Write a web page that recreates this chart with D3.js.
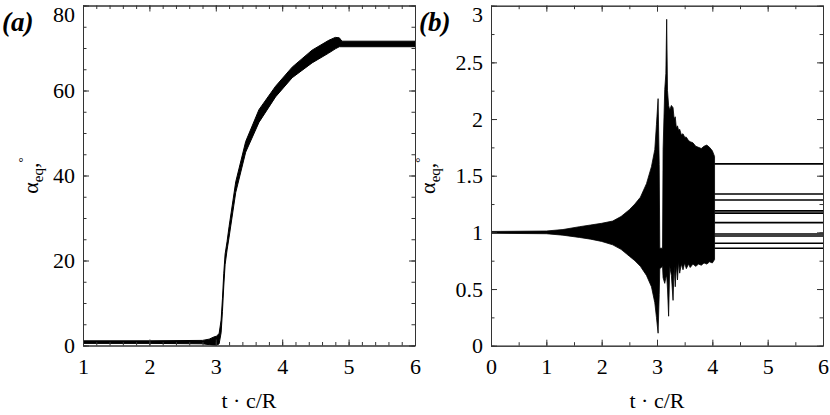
<!DOCTYPE html>
<html>
<head>
<meta charset="utf-8">
<script src="https://cdn.jsdelivr.net/npm/d3@7"></script>
<style>
  body { margin: 0; background: #fff; }
  svg { display: block; font-family: "Liberation Serif", "Times New Roman", serif; }
  .axis path, .axis line { stroke: #333; }
</style>
</head>
<body>
<div id="chart"></div>
<script>
// panel (a): envelope of the oscillating alpha_eq, degrees
var tA  = [1, 2, 2.8, 2.9, 2.97, 3.01, 3.05, 3.08, 3.1, 3.12, 3.14, 3.17, 3.2, 3.3, 3.45, 3.65, 3.9, 4.15, 4.45, 4.7, 4.8, 4.86, 4.9, 6];
var hiA = [1.1, 1.1, 1.2, 1.5, 2.0, 2.2, 2.8, 6, 11, 17, 21.5, 24.5, 28, 38.5, 48, 55.5, 61, 65.5, 69.5, 71.8, 72.5, 72.4, 71.6, 71.6];
var loA = [0.5, 0.5, 0.4, 0.2, 0, 0, 0.4, 3, 8, 14, 19, 22.5, 25.5, 36, 45.5, 52.5, 58.5, 63, 66.5, 68.8, 69.8, 70.3, 70.3, 70.3];

// panel (b): envelope up to t=4, then fixed levels
var tB  = [0, 1, 1.3, 1.6, 1.8, 2.0, 2.2, 2.35, 2.5, 2.6, 2.7, 2.81, 2.9, 2.96, 2.99, 3.02, 3.04, 3.05, 3.1, 3.11,
           3.14, 3.16, 3.175, 3.19, 3.21, 3.23, 3.26, 3.29, 3.31, 3.33, 3.35, 3.37, 3.39, 3.41, 3.44, 3.47, 3.5, 3.53, 3.57, 3.6,
           3.65, 3.7, 3.75, 3.8, 3.85, 3.9, 3.95, 4.0, 4.04];
var hiB = [1.008, 1.012, 1.025, 1.05, 1.065, 1.08, 1.1, 1.14, 1.2, 1.25, 1.31, 1.43, 1.58, 1.73, 1.95, 2.18, 1.6, 0.86, 0.86, 1.73,
           2.26, 2.4, 2.88, 2.25, 2.12, 2.08, 2.12, 2.1, 2.0, 2.02, 1.92, 1.94, 1.9, 1.91, 1.86, 1.87, 1.84, 1.84, 1.81, 1.8,
           1.79, 1.76, 1.75, 1.74, 1.76, 1.77, 1.75, 1.72, 1.67];
var loB = [0.992, 0.988, 0.975, 0.955, 0.94, 0.92, 0.89, 0.85, 0.79, 0.75, 0.7, 0.62, 0.52, 0.38, 0.25, 0.11, 0.45, 0.68, 0.7, 0.6,
           0.55, 0.6, 0.62, 0.5, 0.26, 0.7, 0.62, 0.40, 0.7, 0.52, 0.72, 0.58, 0.74, 0.64, 0.72, 0.67, 0.73, 0.68, 0.72, 0.69,
           0.72, 0.7, 0.72, 0.71, 0.73, 0.72, 0.74, 0.73, 0.76];
var levelsB = [1.604, 1.339, 1.286, 1.19, 1.17, 1.086, 0.986, 0.968, 0.904, 0.86];
var levelStartB = 4.04;

var xTicksA = [1, 2, 3, 4, 5, 6];
var yTicksA = [0, 20, 40, 60, 80];
var xTicksB = [0, 1, 2, 3, 4, 5, 6];
var yTicksB = [0, 0.5, 1, 1.5, 2, 2.5, 3];

var width = 830, height = 415;

var svg = d3.select("#chart").append("svg")
            .attr("width", width)
            .attr("height", height);

function panel(opt) {
  var x = d3.scaleLinear().domain(opt.xDomain).range([opt.left, opt.right]);
  var y = d3.scaleLinear().domain(opt.yDomain).range([opt.bottom, opt.top]);
  var g = svg.append("g");

  g.append("clipPath").attr("id", opt.id + "clip")
    .append("rect")
    .attr("x", opt.left).attr("y", opt.top)
    .attr("width", opt.right - opt.left).attr("height", opt.bottom - opt.top);

  var data = g.append("g").attr("clip-path", "url(#" + opt.id + "clip)");
  var pts = opt.t.map(function(d, i) { return { t: d, hi: opt.hi[i], lo: opt.lo[i] }; });
  var area = d3.area()
      .x(function(d) { return x(d.t); })
      .y0(function(d) { return y(d.lo); })
      .y1(function(d) { return y(d.hi); });
  data.append("path")
    .datum(pts)
    .attr("d", area)
    .attr("fill", "#000")
    .attr("stroke", "#000")
    .attr("stroke-width", opt.sw)
    .attr("stroke-linejoin", "round");

  if (opt.levels) {
    data.selectAll(".level").data(opt.levels).enter().append("line")
      .attr("class", "level")
      .attr("x1", x(opt.levelStart)).attr("x2", x(opt.xDomain[1]))
      .attr("y1", function(d) { return y(d); }).attr("y2", function(d) { return y(d); })
      .attr("stroke", "#000").attr("stroke-width", 1.6);
  }

  // minor ticks, all four sides
  var minor = [
    [d3.axisBottom(x).tickValues(opt.xMinor), "translate(0," + opt.bottom + ")"],
    [d3.axisTop(x).tickValues(opt.xMinor), "translate(0," + opt.top + ")"],
    [d3.axisLeft(y).tickValues(opt.yMinor), "translate(" + opt.left + ",0)"],
    [d3.axisRight(y).tickValues(opt.yMinor), "translate(" + opt.right + ",0)"]
  ];
  minor.forEach(function(m) {
    g.append("g").attr("class", "axis").attr("transform", m[1])
      .call(m[0].tickSize(-3.5).tickFormat("").tickSizeOuter(0));
  });

  // major ticks with labels on bottom/left
  var major = [
    [d3.axisBottom(x).tickValues(opt.xTicks).tickFormat(d3.format("")), "translate(0," + opt.bottom + ")", true],
    [d3.axisTop(x).tickValues(opt.xTicks).tickFormat(""), "translate(0," + opt.top + ")", false],
    [d3.axisLeft(y).tickValues(opt.yTicks).tickFormat(d3.format("")), "translate(" + opt.left + ",0)", true],
    [d3.axisRight(y).tickValues(opt.yTicks).tickFormat(""), "translate(" + opt.right + ",0)", false]
  ];
  major.forEach(function(m, i) {
    var ax = g.append("g").attr("class", "axis").attr("transform", m[1])
      .attr("font-family", null)
      .call(m[0].tickSize(-6).tickSizeOuter(0).tickPadding(i == 0 ? 13 : 8));
    ax.attr("font-family", null).attr("font-size", null);
    ax.selectAll("text")
      .attr("fill", "#000")
      .style("font-size", "22px")
      .style("font-family", "'Liberation Serif', 'Times New Roman', serif");
    if (i == 2) {
      // top label pushed down to stay inside the picture
      ax.selectAll("text").filter(function(d) { return d == opt.yDomain[1]; })
        .attr("dy", "0.72em");
    }
  });

  // axis titles
  g.append("text")
    .attr("x", (opt.left + opt.right) / 2).attr("y", 408)
    .attr("text-anchor", "middle")
    .style("font-size", "22px")
    .text("t \u00B7 c/R");

  var yl = g.append("text")
    .attr("transform", "translate(" + opt.yLabelX + "," + (opt.top + opt.bottom) / 2 + ") rotate(-90)")
    .attr("text-anchor", "middle")
    .style("font-size", "22px");
  yl.append("tspan").text("\u03B1");
  yl.append("tspan").attr("dy", 5).style("font-size", "15px").text("eq");
  yl.append("tspan").attr("dy", -5).text(",");
  yl.append("tspan").attr("dy", -11).style("font-size", "13px").text("\u00B0");

  g.append("text")
    .attr("x", opt.tagX).attr("y", 31)
    .style("font-size", "27px").style("font-weight", "bold").style("font-style", "italic")
    .text(opt.tag);
}

panel({
  id: "a", tag: "(a)", tagX: 2, yLabelX: 38,
  left: 83, right: 415, top: 5.5, bottom: 345.5,
  xDomain: [1, 6], yDomain: [0, 80],
  xTicks: xTicksA, yTicks: yTicksA,
  xMinor: d3.range(1, 6.001, 0.2), yMinor: d3.range(0, 80.001, 5),
  t: tA, hi: hiA, lo: loA, sw: 1
});

panel({
  id: "b", tag: "(b)", tagX: 419, yLabelX: 435,
  left: 491, right: 823, top: 5.7, bottom: 345.7,
  xDomain: [0, 6], yDomain: [0, 3],
  xTicks: xTicksB, yTicks: yTicksB,
  xMinor: d3.range(0, 6.001, 0.5), yMinor: d3.range(0, 3.001, 0.25),
  t: tB, hi: hiB, lo: loB, sw: 0.8,
  levels: levelsB, levelStart: levelStartB
});
</script>
</body>
</html>
